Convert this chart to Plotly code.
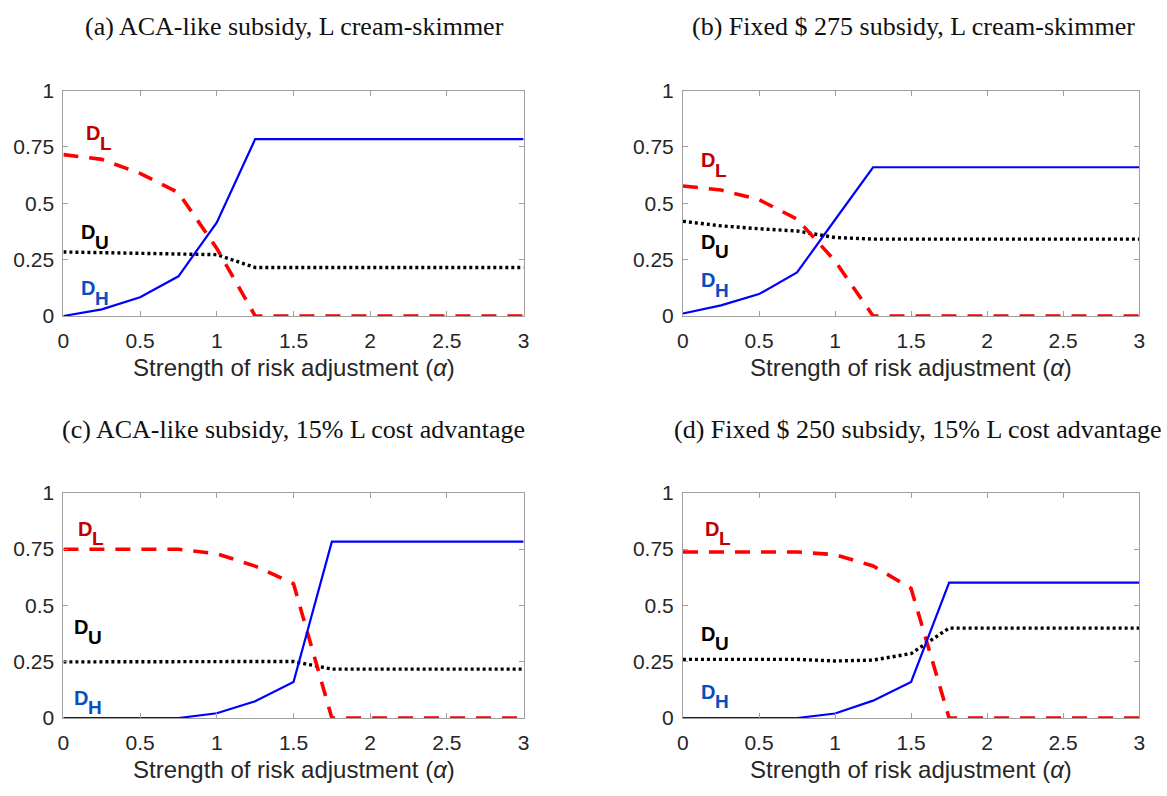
import plotly.graph_objects as go

W, H = 1167, 796

alpha = [0, 0.25, 0.5, 0.75, 1.0, 1.25, 1.5, 1.75, 2.0, 2.25, 2.5, 2.75, 3.0]

# Panel (a): ACA-like subsidy, L cream-skimmer
a_DH = [0.0, 0.029, 0.083, 0.176, 0.415, 0.785, 0.785, 0.785, 0.785, 0.785, 0.785, 0.785, 0.785]
a_DL = [0.716, 0.695, 0.633, 0.547, 0.30, 0.0, 0.0, 0.0, 0.0, 0.0, 0.0, 0.0, 0.0]
a_DU = [0.284, 0.280, 0.277, 0.275, 0.272, 0.215, 0.215, 0.215, 0.215, 0.215, 0.215, 0.215, 0.215]

# Panel (b): Fixed $275 subsidy, L cream-skimmer
b_DH = [0.011, 0.047, 0.097, 0.193, 0.427, 0.660, 0.660, 0.660, 0.660, 0.660, 0.660, 0.660, 0.660]
b_DL = [0.577, 0.559, 0.516, 0.430, 0.244, 0.0, 0.0, 0.0, 0.0, 0.0, 0.0, 0.0, 0.0]
b_DU = [0.420, 0.400, 0.387, 0.377, 0.348, 0.341, 0.341, 0.341, 0.341, 0.341, 0.341, 0.341, 0.341]

# Panel (c): ACA-like subsidy, 15% L cost advantage
c_DH = [0.0, 0.0, 0.0, 0.0, 0.021, 0.074, 0.160, 0.783, 0.783, 0.783, 0.783, 0.783, 0.783]
c_DL = [0.749, 0.749, 0.749, 0.749, 0.729, 0.674, 0.596, 0.0, 0.0, 0.0, 0.0, 0.0, 0.0]
c_DU = [0.249, 0.249, 0.249, 0.249, 0.249, 0.249, 0.251, 0.217, 0.217, 0.217, 0.217, 0.217, 0.217]

# Panel (d): Fixed $250 subsidy, 15% L cost advantage
d_DH = [0.0, 0.0, 0.0, 0.0, 0.020, 0.077, 0.160, 0.601, 0.601, 0.601, 0.601, 0.601, 0.601]
d_DL = [0.737, 0.737, 0.737, 0.737, 0.725, 0.675, 0.575, 0.0, 0.0, 0.0, 0.0, 0.0, 0.0]
d_DU = [0.260, 0.260, 0.260, 0.260, 0.253, 0.257, 0.286, 0.399, 0.399, 0.399, 0.399, 0.399, 0.399]

titles = [
    "(a) ACA-like subsidy, L cream-skimmer",
    "(b) Fixed $ 275 subsidy, L cream-skimmer",
    "(c) ACA-like subsidy, 15% L cost advantage",
    "(d) Fixed $ 250 subsidy, 15% L cost advantage",
]
x_ticks = [0, 0.5, 1, 1.5, 2, 2.5, 3]
x_ticklabels = ["0", "0.5", "1", "1.5", "2", "2.5", "3"]
y_ticks = [0, 0.25, 0.5, 0.75, 1]
y_ticklabels = ["0", "0.25", "0.5", "0.75", "1"]
x_title = "Strength of risk adjustment (<i>α</i>)"

# label positions (data coords, left edge of "D", vertical centre)
labels = [
    {"L": (0.131, 0.81), "U": (0.101, 0.372), "H": (0.101, 0.122)},
    {"L": (0.108, 0.69), "U": (0.104, 0.33), "H": (0.104, 0.158)},
    {"L": (0.085, 0.839), "U": (0.055, 0.403), "H": (0.055, 0.089)},
    {"L": (0.133, 0.84), "U": (0.104, 0.375), "H": (0.104, 0.117)},
]

series = [(a_DH, a_DL, a_DU), (b_DH, b_DL, b_DU), (c_DH, c_DL, c_DU), (d_DH, d_DL, d_DU)]

# pixel boxes: (left, right, top, bottom)
boxes = [(58, 523, 81, 313), (684, 1145, 81, 313), (58, 523, 495, 727), (684, 1145, 495, 727)]
title_pos = [(291, 15), (917, 15), (290, 430), (921, 430)]
xtitle_y = [366, 780]

fig = go.Figure()
anns = []
frame_col = "#a0a0a0"
tick_col = "#262626"
lab_cols = {"L": "#c00000", "U": "#000000", "H": "#0a4dbe"}

for i, (box, (dh, dl, du)) in enumerate(zip(boxes, series)):
    l, r, t, b = box
    xa = "x" if i == 0 else f"x{i+1}"
    ya = "y" if i == 0 else f"y{i+1}"
    xkey = "xaxis" if i == 0 else f"xaxis{i+1}"
    ykey = "yaxis" if i == 0 else f"yaxis{i+1}"
    fig.add_trace(go.Scatter(x=alpha, y=du, mode="lines", xaxis=xa, yaxis=ya, cliponaxis=False,
                             line=dict(color="#000000", width=3.4, dash="3px,3px"), showlegend=False))
    fig.add_trace(go.Scatter(x=alpha, y=dl, mode="lines", xaxis=xa, yaxis=ya, cliponaxis=False,
                             line=dict(color="#ff0000", width=3.6, dash="15px,11px"), showlegend=False))
    fig.add_trace(go.Scatter(x=alpha, y=dh, mode="lines", xaxis=xa, yaxis=ya, cliponaxis=False,
                             line=dict(color="#0000ff", width=2.2), showlegend=False))
    fig.layout[xkey] = dict(domain=[l / W, r / W], anchor=ya, range=[0, 3], tickvals=x_ticks,
                            ticktext=x_ticklabels, ticks="inside", ticklen=5, tickcolor=frame_col,
                            showline=True, linecolor=frame_col, linewidth=1, mirror="ticks",
                            showgrid=False, zeroline=False, ticklabelstandoff=6,
                            tickfont=dict(family="Liberation Sans, Arial", size=21, color=tick_col))
    fig.layout[ykey] = dict(domain=[1 - b / H, 1 - t / H], anchor=xa, range=[0, 1], tickvals=y_ticks,
                            ticktext=y_ticklabels, ticks="inside", ticklen=5, tickcolor=frame_col,
                            showline=True, linecolor=frame_col, linewidth=1, mirror="ticks",
                            showgrid=False, zeroline=False, ticklabelstandoff=4,
                            tickfont=dict(family="Liberation Sans, Arial", size=21, color=tick_col))
    for key, (lx, ly) in labels[i].items():
        anns.append(dict(x=lx, y=ly, xref=xa, yref=ya, text="<b>D</b>", showarrow=False,
                         xanchor="left", yanchor="middle",
                         font=dict(family="Liberation Sans, Arial", size=20, color=lab_cols[key])))
        anns.append(dict(x=lx, y=ly, xref=xa, yref=ya, text=f"<b>{key}</b>", showarrow=False,
                         xanchor="left", yanchor="middle", xshift=14, yshift=-10,
                         font=dict(family="Liberation Sans, Arial", size=19, color=lab_cols[key])))
    tx, ty = title_pos[i]
    anns.append(dict(x=tx / W, y=1 - ty / H, xref="paper", yref="paper", text=titles[i],
                     showarrow=False, xanchor="center", yanchor="middle",
                     font=dict(family="Liberation Serif, serif", size=26, color="#111111")))
    anns.append(dict(x=(l + r) / 2 / W, y=1 - xtitle_y[i // 2] / H, xref="paper", yref="paper",
                     text=x_title, showarrow=False, xanchor="center", yanchor="middle",
                     font=dict(family="Liberation Sans, Arial", size=24, color=tick_col)))

fig.update_layout(width=W, height=H, margin=dict(l=0, r=0, t=0, b=0),
                  plot_bgcolor="white", paper_bgcolor="white", annotations=anns)
fig.write_html("out.html")
